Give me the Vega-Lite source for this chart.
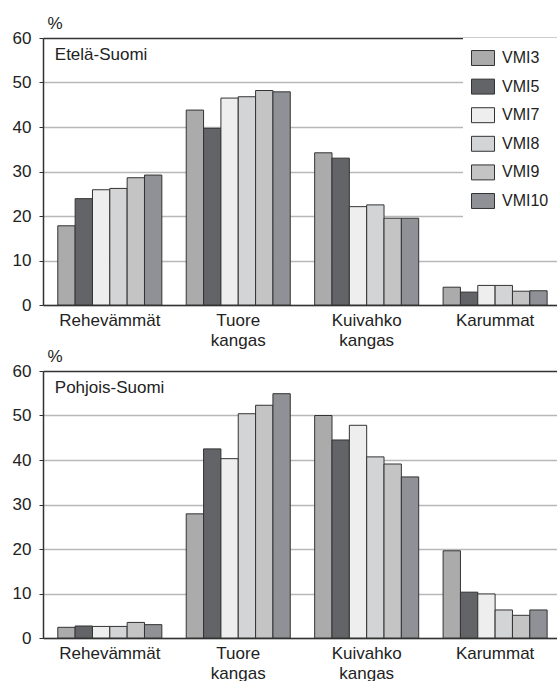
{
  "$schema": "https://vega.github.io/schema/vega-lite/v6.json",
  "padding": {"left": 12, "top": 14, "right": 0, "bottom": 0},
  "config": {
    "font": "Liberation Sans",
    "view": {"stroke": null}
  },
  "bounds": "flush",
  "spacing": 66,
  "datasets": {
    "forest": [
      {"region": "Etelä-Suomi", "category": "Rehevämmät", "series": "VMI3", "value": 17.8},
      {"region": "Etelä-Suomi", "category": "Rehevämmät", "series": "VMI5", "value": 23.9},
      {"region": "Etelä-Suomi", "category": "Rehevämmät", "series": "VMI7", "value": 25.9},
      {"region": "Etelä-Suomi", "category": "Rehevämmät", "series": "VMI8", "value": 26.2},
      {"region": "Etelä-Suomi", "category": "Rehevämmät", "series": "VMI9", "value": 28.6},
      {"region": "Etelä-Suomi", "category": "Rehevämmät", "series": "VMI10", "value": 29.2},
      {"region": "Etelä-Suomi", "category": "Tuore kangas", "series": "VMI3", "value": 43.8},
      {"region": "Etelä-Suomi", "category": "Tuore kangas", "series": "VMI5", "value": 39.7},
      {"region": "Etelä-Suomi", "category": "Tuore kangas", "series": "VMI7", "value": 46.5},
      {"region": "Etelä-Suomi", "category": "Tuore kangas", "series": "VMI8", "value": 46.8},
      {"region": "Etelä-Suomi", "category": "Tuore kangas", "series": "VMI9", "value": 48.2},
      {"region": "Etelä-Suomi", "category": "Tuore kangas", "series": "VMI10", "value": 47.9},
      {"region": "Etelä-Suomi", "category": "Kuivahko kangas", "series": "VMI3", "value": 34.2},
      {"region": "Etelä-Suomi", "category": "Kuivahko kangas", "series": "VMI5", "value": 33.0},
      {"region": "Etelä-Suomi", "category": "Kuivahko kangas", "series": "VMI7", "value": 22.1},
      {"region": "Etelä-Suomi", "category": "Kuivahko kangas", "series": "VMI8", "value": 22.5},
      {"region": "Etelä-Suomi", "category": "Kuivahko kangas", "series": "VMI9", "value": 19.5},
      {"region": "Etelä-Suomi", "category": "Kuivahko kangas", "series": "VMI10", "value": 19.5},
      {"region": "Etelä-Suomi", "category": "Karummat", "series": "VMI3", "value": 4.0},
      {"region": "Etelä-Suomi", "category": "Karummat", "series": "VMI5", "value": 2.9},
      {"region": "Etelä-Suomi", "category": "Karummat", "series": "VMI7", "value": 4.4},
      {"region": "Etelä-Suomi", "category": "Karummat", "series": "VMI8", "value": 4.4},
      {"region": "Etelä-Suomi", "category": "Karummat", "series": "VMI9", "value": 3.1},
      {"region": "Etelä-Suomi", "category": "Karummat", "series": "VMI10", "value": 3.2},
      {"region": "Pohjois-Suomi", "category": "Rehevämmät", "series": "VMI3", "value": 2.4},
      {"region": "Pohjois-Suomi", "category": "Rehevämmät", "series": "VMI5", "value": 2.7},
      {"region": "Pohjois-Suomi", "category": "Rehevämmät", "series": "VMI7", "value": 2.6},
      {"region": "Pohjois-Suomi", "category": "Rehevämmät", "series": "VMI8", "value": 2.6},
      {"region": "Pohjois-Suomi", "category": "Rehevämmät", "series": "VMI9", "value": 3.5},
      {"region": "Pohjois-Suomi", "category": "Rehevämmät", "series": "VMI10", "value": 3.0},
      {"region": "Pohjois-Suomi", "category": "Tuore kangas", "series": "VMI3", "value": 27.9},
      {"region": "Pohjois-Suomi", "category": "Tuore kangas", "series": "VMI5", "value": 42.5},
      {"region": "Pohjois-Suomi", "category": "Tuore kangas", "series": "VMI7", "value": 40.3},
      {"region": "Pohjois-Suomi", "category": "Tuore kangas", "series": "VMI8", "value": 50.4},
      {"region": "Pohjois-Suomi", "category": "Tuore kangas", "series": "VMI9", "value": 52.3},
      {"region": "Pohjois-Suomi", "category": "Tuore kangas", "series": "VMI10", "value": 54.9},
      {"region": "Pohjois-Suomi", "category": "Kuivahko kangas", "series": "VMI3", "value": 50.0},
      {"region": "Pohjois-Suomi", "category": "Kuivahko kangas", "series": "VMI5", "value": 44.5},
      {"region": "Pohjois-Suomi", "category": "Kuivahko kangas", "series": "VMI7", "value": 47.8},
      {"region": "Pohjois-Suomi", "category": "Kuivahko kangas", "series": "VMI8", "value": 40.7},
      {"region": "Pohjois-Suomi", "category": "Kuivahko kangas", "series": "VMI9", "value": 39.1},
      {"region": "Pohjois-Suomi", "category": "Kuivahko kangas", "series": "VMI10", "value": 36.2},
      {"region": "Pohjois-Suomi", "category": "Karummat", "series": "VMI3", "value": 19.6},
      {"region": "Pohjois-Suomi", "category": "Karummat", "series": "VMI5", "value": 10.3},
      {"region": "Pohjois-Suomi", "category": "Karummat", "series": "VMI7", "value": 9.9},
      {"region": "Pohjois-Suomi", "category": "Karummat", "series": "VMI8", "value": 6.3},
      {"region": "Pohjois-Suomi", "category": "Karummat", "series": "VMI9", "value": 5.1},
      {"region": "Pohjois-Suomi", "category": "Karummat", "series": "VMI10", "value": 6.3}
    ]
  },
  "resolve": {"scale": {"color": "independent"}, "legend": {"color": "independent"}},
  "vconcat": [
    {
      "width": 514,
      "height": 267,
      "data": {"name": "forest"},
      "transform": [{"filter": "datum.region === 'Etelä-Suomi'"}],
      "layer": [
        {
          "mark": {"type": "bar", "stroke": "#333333", "strokeWidth": 1},
          "encoding": {
            "x": {
              "field": "category", "type": "nominal",
              "sort": ["Rehevämmät", "Tuore kangas", "Kuivahko kangas", "Karummat"],
              "scale": {"paddingInner": 0.19, "paddingOuter": 0.096, "align": 0.6},
              "axis": {"title": null, "labelAngle": 0, "labelFontSize": 17, "labelColor": "#222222", "labelPadding": 7, "labelBaseline": "top", "labelLineHeight": 20, "labelExpr": "split(datum.label, ' ')", "ticks": false, "domainColor": "#333333", "domainWidth": 1.5}
            },
            "xOffset": {"field": "series", "type": "nominal", "sort": ["VMI3", "VMI5", "VMI7", "VMI8", "VMI9", "VMI10"], "scale": {"paddingInner": 0, "paddingOuter": 0}},
            "y": {
              "field": "value", "type": "quantitative",
              "scale": {"domain": [0, 60], "nice": false},
              "axis": {"values": [0, 10, 20, 30, 40, 50, 60], "grid": true, "gridColor": {"condition": {"test": "datum.value === 60", "value": "#333333"}, "value": "#b8b8b8"}, "gridWidth": 1.5, "domainColor": "#333333", "domainWidth": 1.5, "tickColor": "#333333", "tickSize": 4, "labelFontSize": 17, "labelColor": "#222222", "labelPadding": 8, "title": "%", "titleAngle": 0, "titleX": 4, "titleY": -10, "titleAlign": "left", "titleBaseline": "alphabetic", "titleFontSize": 17, "titleFontWeight": "normal", "titleColor": "#222222"}
            },
            "color": {
              "field": "series", "type": "nominal",
              "sort": ["VMI3", "VMI5", "VMI7", "VMI8", "VMI9", "VMI10"],
              "scale": {"domain": ["VMI3", "VMI5", "VMI7", "VMI8", "VMI9", "VMI10"], "range": ["#ababab", "#636467", "#eeeeee", "#d3d4d6", "#c4c4c4", "#909196"]},
              "legend": {"orient": "none", "legendX": 420, "legendY": 0, "fillColor": "white", "padding": 8, "title": null, "symbolType": "M-1,-0.65H1V0.65H-1Z", "symbolSize": 529, "symbolStrokeColor": "#333333", "symbolStrokeWidth": 1, "symbolOpacity": 1, "labelFontSize": 16, "labelColor": "#222222", "labelOffset": 7, "rowPadding": 6.6}
            }
          }
        },
        {
          "transform": [{"filter": "datum.series === 'VMI3' && datum.category === 'Rehevämmät'"}],
          "mark": {"type": "text", "text": "Etelä-Suomi", "fontSize": 17, "align": "left", "baseline": "top", "dx": -3, "dy": 9, "color": "#222222"},
          "encoding": {
            "x": {"datum": "Rehevämmät", "type": "nominal", "bandPosition": 0},
            "y": {"datum": 60, "type": "quantitative"}
          }
        }
      ]
    },
    {
      "width": 514,
      "height": 267,
      "data": {"name": "forest"},
      "transform": [{"filter": "datum.region === 'Pohjois-Suomi'"}],
      "layer": [
        {
          "mark": {"type": "bar", "stroke": "#333333", "strokeWidth": 1},
          "encoding": {
            "x": {
              "field": "category", "type": "nominal",
              "sort": ["Rehevämmät", "Tuore kangas", "Kuivahko kangas", "Karummat"],
              "scale": {"paddingInner": 0.19, "paddingOuter": 0.096, "align": 0.6},
              "axis": {"title": null, "labelAngle": 0, "labelFontSize": 17, "labelColor": "#222222", "labelPadding": 7, "labelBaseline": "top", "labelLineHeight": 20, "labelExpr": "split(datum.label, ' ')", "ticks": false, "domainColor": "#333333", "domainWidth": 1.5}
            },
            "xOffset": {"field": "series", "type": "nominal", "sort": ["VMI3", "VMI5", "VMI7", "VMI8", "VMI9", "VMI10"], "scale": {"paddingInner": 0, "paddingOuter": 0}},
            "y": {
              "field": "value", "type": "quantitative",
              "scale": {"domain": [0, 60], "nice": false},
              "axis": {"values": [0, 10, 20, 30, 40, 50, 60], "grid": true, "gridColor": {"condition": {"test": "datum.value === 60", "value": "#333333"}, "value": "#b8b8b8"}, "gridWidth": 1.5, "domainColor": "#333333", "domainWidth": 1.5, "tickColor": "#333333", "tickSize": 4, "labelFontSize": 17, "labelColor": "#222222", "labelPadding": 8, "title": "%", "titleAngle": 0, "titleX": 4, "titleY": -10, "titleAlign": "left", "titleBaseline": "alphabetic", "titleFontSize": 17, "titleFontWeight": "normal", "titleColor": "#222222"}
            },
            "color": {
              "field": "series", "type": "nominal",
              "sort": ["VMI3", "VMI5", "VMI7", "VMI8", "VMI9", "VMI10"],
              "scale": {"domain": ["VMI3", "VMI5", "VMI7", "VMI8", "VMI9", "VMI10"], "range": ["#ababab", "#636467", "#eeeeee", "#d3d4d6", "#c4c4c4", "#909196"]},
              "legend": null
            }
          }
        },
        {
          "transform": [{"filter": "datum.series === 'VMI3' && datum.category === 'Rehevämmät'"}],
          "mark": {"type": "text", "text": "Pohjois-Suomi", "fontSize": 17, "align": "left", "baseline": "top", "dx": -3, "dy": 9, "color": "#222222"},
          "encoding": {
            "x": {"datum": "Rehevämmät", "type": "nominal", "bandPosition": 0},
            "y": {"datum": 60, "type": "quantitative"}
          }
        }
      ]
    }
  ]
}
